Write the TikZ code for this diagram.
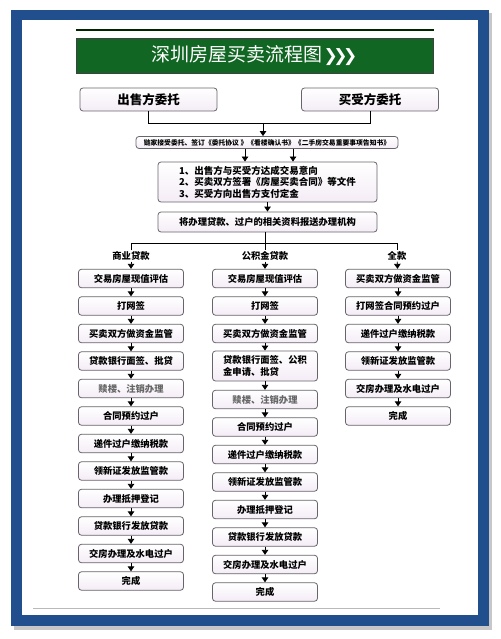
\documentclass[tikz,border=0pt]{standalone}
\usepackage{fontspec}
\newfontfamily\cjk{Noto Sans CJK SC}
\newfontfamily\dingfont{DejaVu Sans}
\usetikzlibrary{arrows.meta}

\definecolor{frameblue}{RGB}{33,78,140}
\definecolor{titlegreen}{RGB}{16,102,34}
\definecolor{boxline}{RGB}{105,100,108}
\definecolor{boxfill}{RGB}{244,236,246}

\tikzset{
	stage/.style = {draw = boxline, line width = 0.8pt, rounded corners = 3pt, top color = white, bottom color = boxfill, minimum width = 105pt, minimum height = 18.5pt, inner sep = 1pt, font = \cjk\bfseries\fontsize{9.3}{11}\selectfont},
	party/.style = {stage, minimum width = 137pt, minimum height = 23pt, font = \cjk\bfseries\fontsize{12.5}{14}\selectfont},
	wide/.style = {stage, minimum width = 219pt},
	branch/.style = {inner sep = 1pt, font = \cjk\bfseries\fontsize{9.3}{11}\selectfont},
	flow/.style = {-{Triangle[width = 6.5pt, length = 5pt]}, line width = 0.8pt},
	joint/.style = {line width = 1pt}
}

\begin{document}
\begin{tikzpicture}[x = 1pt, y = -1pt]

\useasboundingbox (0, 0) rectangle (500, 639);

% Frame

\fill [black!22] (14, 13) rectangle (492, 630);
\fill [frameblue] (11, 10) rectangle (489, 626);
\fill [white] (22, 20) rectangle (478, 615);
\draw [gray!55, line width = 0.6pt] (33, 608) -- (440, 608);

% Title

\draw [line width = 2pt, black!85!green] (76, 30) -- (434, 30);
\node [draw = black!75, line width = 0.8pt, fill = titlegreen, minimum width = 357pt, minimum height = 35pt, text = white, font = \cjk\fontsize{19}{22}\selectfont] (title) at (254.5, 55.5) {深圳房屋买卖流程图\kern1pt{\dingfont\bfseries\fontsize{17}{18}\selectfont ❯\kern-4.5pt❯\kern-4.5pt❯}};

% Commission

\node [party] (seller) at (148.5, 99.5) {出售方委托};
\node [party] (buyer) at (370, 99.5) {买受方委托};
\coordinate (meet) at (263, 123);

\node [stage, minimum width = 262pt, minimum height = 12pt, inner sep = 0.5pt, font = \cjk\bfseries\fontsize{6.8}{8}\selectfont] (agency) at (267, 142.5) {链家接受委托、签订《委托协议 》《看楼确认书》《二手房交易重要事项告知书》};

\draw [joint] (seller.south) -- ++(0, 12) -| (buyer.south);
\draw [flow] (meet) -- (meet |- agency.north);

% Deal and documents

\node [wide, minimum height = 40pt, align = left, font = \cjk\bfseries\fontsize{9.5}{11.5}\selectfont] (deal) at (267.5, 182) {1、出售方与买受方达成交易意向\\2、买卖双方签署《房屋买卖合同》等文件\\3、买受方向出售方支付定金};
\node [wide, minimum height = 20pt] (docs) at (267.5, 222) {将办理贷款、过户的相关资料报送办理机构};

\draw [flow] ([xshift = -22pt]agency.south) -- ([xshift = -22pt]agency.south |- deal.north);
\draw [flow] ([xshift = 26pt]agency.south) -- ([xshift = 26pt]agency.south |- deal.north);
\draw [flow] (deal) -- (docs);

% Branches

\node [branch] (loan) at (131, 256) {商业贷款};
\node [branch] (fund) at (265, 256) {公积金贷款};
\node [branch] (cash) at (397, 256) {全款};

\draw [joint] (loan.north) -- ++(0, -7) -| (cash.north);
\draw [joint] (docs.south -| fund) -- (fund.north);

% Commercial loan

\foreach \txt [count = \i] in {交易房屋现值评估, 打网签, 买卖双方做资金监管, 贷款银行面签、批贷, {\color{black!60}赎楼、注销办理}, 合同预约过户, 递件过户缴纳税款, 领新证发放监管款, 办理抵押登记, 贷款银行发放贷款, 交房办理及水电过户, 完成}
	\node [stage] (l\i) at (131, 251 + 27.5 * \i) {\txt};

\draw [flow] (loan) -- (l1);
\foreach \i [remember = \i as \j (initially 1)] in {2, ..., 12}
	\draw [flow] (l\j) -- (l\i);

% Housing fund loan

\foreach \txt [count = \i] in {交易房屋现值评估, 打网签, 买卖双方做资金监管}
	\node [stage] (m\i) at (265, 251 + 27.5 * \i) {\txt};

\node [stage, minimum height = 30pt, align = left, font = \cjk\bfseries\fontsize{9.3}{12}\selectfont] (m4) at (265, 366) {贷款银行面签、公积\\金申请、批贷};

\foreach \txt [count = \i from 5] in {{\color{black!60}赎楼、注销办理}, 合同预约过户, 递件过户缴纳税款, 领新证发放监管款, 办理抵押登记, 贷款银行发放贷款, 交房办理及水电过户, 完成}
	\node [stage] (m\i) at (265, 262 + 27.5 * \i) {\txt};

\draw [flow] (fund) -- (m1);
\foreach \i [remember = \i as \j (initially 1)] in {2, ..., 12}
	\draw [flow] (m\j) -- (m\i);

% Full payment

\foreach \txt [count = \i] in {买卖双方做资金监管, 打网签合同预约过户, 递件过户缴纳税款, 领新证发放监管款, 交房办理及水电过户, 完成}
	\node [stage] (r\i) at (398, 251 + 27.5 * \i) {\txt};

\draw [flow] (cash) -- (r1);
\foreach \i [remember = \i as \j (initially 1)] in {2, ..., 6}
	\draw [flow] (r\j) -- (r\i);

\end{tikzpicture}
\end{document}
